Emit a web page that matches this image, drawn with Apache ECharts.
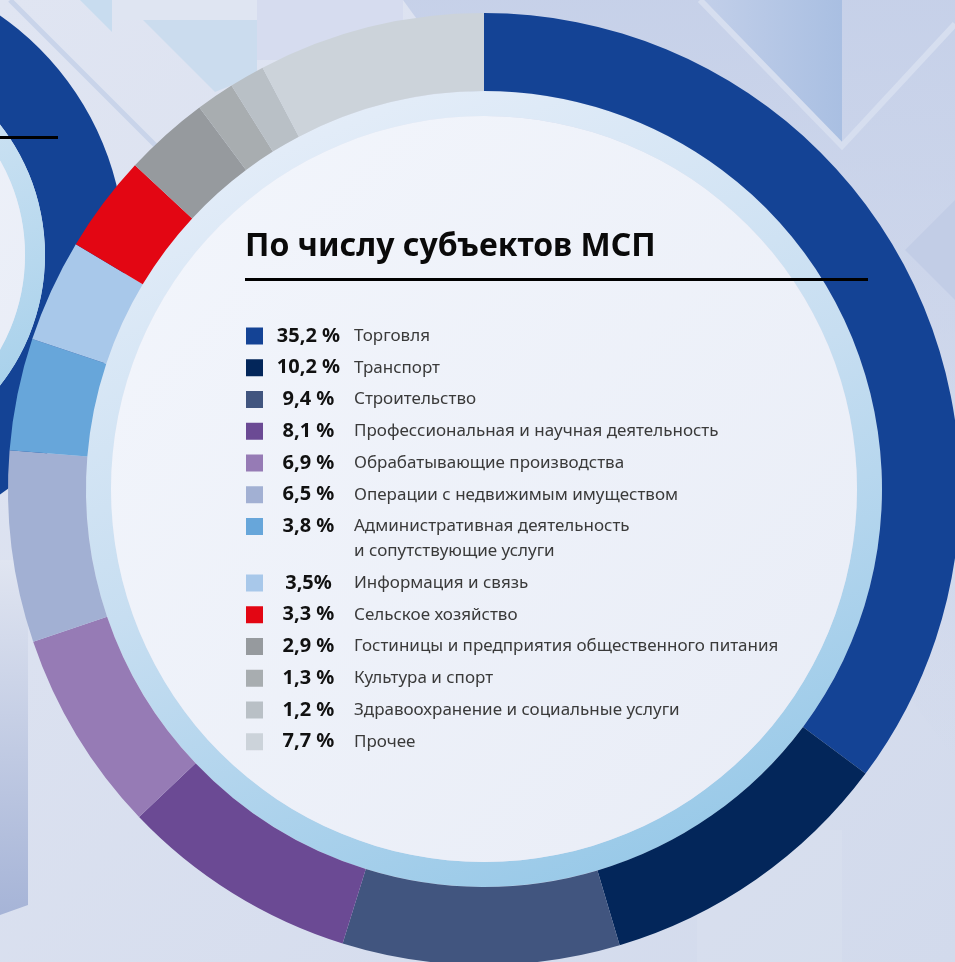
<!DOCTYPE html>
<html>
<head>
<meta charset="utf-8">
<script src="https://cdn.jsdelivr.net/npm/echarts@6/dist/echarts.min.js"></script>
<style>
  html, body { margin: 0; padding: 0; }
  #chart { width: 955px; height: 962px; }
</style>
</head>
<body>
<div id="chart"></div>
<script>
// доли отраслей по числу субъектов МСП
const categories = [
  'Торговля',
  'Транспорт',
  'Строительство',
  'Профессиональная и научная деятельность',
  'Обрабатывающие производства',
  'Операции с недвижимым имуществом',
  'Административная деятельность\nи сопутствующие услуги',
  'Информация и связь',
  'Сельское хозяйство',
  'Гостиницы и предприятия общественного питания',
  'Культура и спорт',
  'Здравоохранение и социальные услуги',
  'Прочее'
]
const shares = [35.2, 10.2, 9.4, 8.1, 6.9, 6.5, 3.8, 3.5, 3.3, 2.9, 1.3, 1.2, 7.7]
const shareLabels = ['35,2 %', '10,2 %', '9,4 %', '8,1 %', '6,9 %', '6,5 %', '3,8 %', '3,5%', '3,3 %', '2,9 %', '1,3 %', '1,2 %', '7,7 %']
const colors = [
  '#144395', '#03265a', '#41557f', '#6b4a94', '#967bb5', '#a2b0d3', '#67a6da',
  '#a8c8ea', '#e30613', '#969a9e', '#a8adb0', '#b9c0c6', '#ccd3da'
]

const FONT = '"Noto Sans", sans-serif'
const chart = echarts.init(document.getElementById('chart'))

const pieData = categories.map((name, i) => ({
  name: name,
  value: shares[i],
  itemStyle: { color: colors[i] }
}))

const labelOf = {}
categories.forEach((c, i) => { labelOf[c] = shareLabels[i] })

// общий вид легенды
const legendBase = {
  orient: 'vertical',
  left: 246,
  padding: 0,
  icon: 'rect',
  itemWidth: 17,
  itemHeight: 17,
  itemGap: 11.75,
  selectedMode: false,
  formatter: function (name) {
    return '{v|' + labelOf[name] + '}{n|' + name.split('\n')[0] + '}'
  },
  textStyle: {
    rich: {
      v: { fontFamily: FONT, fontWeight: 'bold', fontSize: 20, color: '#111', width: 81, align: 'right', lineHeight: 20 },
      n: { fontFamily: FONT, fontSize: 17, color: '#3a3a3a', padding: [0, 0, 0, 5], lineHeight: 20 }
    }
  }
}

const bandGradient = new echarts.graphic.LinearGradient(0.25, 0, 0.65, 1, [
  { offset: 0, color: '#e6eef9' },
  { offset: 0.5, color: '#c7def1' },
  { offset: 1, color: '#98c9e8' }
])
const leftBandGradient = new echarts.graphic.LinearGradient(0.5, 0, 0.9, 1, [
  { offset: 0, color: '#dce9f6' },
  { offset: 1, color: '#9fcde9' }
])
const innerGradient = new echarts.graphic.LinearGradient(0, 0, 1, 1, [
  { offset: 0, color: '#f3f6fc' },
  { offset: 1, color: '#e8ecf6' }
])

const option = {
  animation: false,
  backgroundColor: new echarts.graphic.LinearGradient(0, 0, 1, 1, [
    { offset: 0, color: '#e0e5f2' },
    { offset: 1, color: '#d2daec' }
  ]),
  title: {
    text: 'По числу субъектов МСП',
    left: 240,
    top: 226,
    textStyle: { fontFamily: FONT, fontWeight: 'bold', fontSize: 32, color: '#0a0a0a' }
  },
  legend: [
    Object.assign({}, legendBase, { top: 326, data: categories.slice(0, 7) }),
    Object.assign({}, legendBase, { top: 573, data: categories.slice(7) })
  ],
  graphic: [
    // фоновые фигуры
    { type: 'polygon', z: 0, silent: true, shape: { points: [[403, 0], [955, 0], [955, 760]] },
      style: { fill: new echarts.graphic.LinearGradient(0, 0, 0, 1, [{ offset: 0, color: 'rgba(196,207,232,0.9)' }, { offset: 1, color: 'rgba(196,207,232,0)' }]) } },
    { type: 'polygon', z: 0, silent: true, shape: { points: [[703, 0], [842, 0], [842, 143]] },
      style: { fill: new echarts.graphic.LinearGradient(0, 0, 1, 0, [{ offset: 0, color: '#c2cfe9' }, { offset: 1, color: '#a9bfe2' }]) } },
    { type: 'polyline', z: 0, silent: true, shape: { points: [[700, 0], [842, 146], [955, 24]] }, style: { stroke: '#d6deef', lineWidth: 6 } },
    { type: 'polygon', z: 0, silent: true, shape: { points: [[955, 200], [905, 250], [955, 300]] }, style: { fill: '#bfcbe5', opacity: 0.8 } },
    { type: 'polygon', z: 0, silent: true, shape: { points: [[257, 0], [403, 0], [403, 60], [257, 60]] }, style: { fill: '#d6dcef' } },
    { type: 'polygon', z: 0, silent: true, shape: { points: [[112, 0], [257, 0], [257, 20], [112, 20]] }, style: { fill: '#dfe5f2' } },
    { type: 'polygon', z: 0, silent: true, shape: { points: [[143, 20], [257, 20], [257, 75], [215, 92]] }, style: { fill: '#cbdcee' } },
    { type: 'polygon', z: 0, silent: true, shape: { points: [[80, 0], [112, 0], [112, 32]] }, style: { fill: '#c8dcef' } },
    { type: 'line', z: 0, silent: true, shape: { x1: 10, y1: 0, x2: 160, y2: 150 }, style: { stroke: '#c9d4ea', lineWidth: 5 } },
    { type: 'polygon', z: 0, silent: true, shape: { points: [[0, 560], [28, 560], [28, 905], [0, 915]] },
      style: { fill: new echarts.graphic.LinearGradient(0, 0, 0, 1, [{ offset: 0, color: '#e0e5f1' }, { offset: 1, color: '#a6b4d7' }]) } },
    { type: 'polygon', z: 0, silent: true, shape: { points: [[697, 830], [842, 830], [842, 962], [697, 962]] }, style: { fill: '#d9e0ef', opacity: 0.6 } },
    // линия заголовка левого графика
    { type: 'line', z: 100, silent: true, shape: { x1: 0, y1: 137.5, x2: 58, y2: 137.5 }, style: { stroke: '#000', lineWidth: 3 } },
    // подчёркивание заголовка
    { type: 'line', z: 100, silent: true, shape: { x1: 245, y1: 279.5, x2: 868, y2: 279.5 }, style: { stroke: '#000', lineWidth: 3 } },
    // вторая строка подписи
    { type: 'text', z: 100, silent: true, left: 354, top: 543,
      style: { text: categories[6].split('\n')[1], fontFamily: FONT, fontSize: 17, fill: '#3a3a3a' } }
  ],
  series: [
    // соседний график слева (обрезан)
    { type: 'pie', silent: true, center: [-167, 255], radius: [212, 292], label: { show: false },
      data: [{ value: 1, itemStyle: { color: '#144395' } }] },
    { type: 'pie', silent: true, center: [-167, 255], radius: [192, 212], label: { show: false },
      data: [{ value: 1, itemStyle: { color: leftBandGradient } }] },
    { type: 'pie', silent: true, center: [-167, 255], radius: [0, 192], label: { show: false },
      data: [{ value: 1, itemStyle: { color: innerGradient } }] },
    // основной график
    { type: 'pie', silent: true, center: [484, 489], radius: [373, 398], label: { show: false },
      data: [{ value: 1, itemStyle: { color: bandGradient } }] },
    { type: 'pie', silent: true, center: [484, 489], radius: [0, 373], label: { show: false },
      data: [{ value: 1, itemStyle: { color: innerGradient } }] },
    {
      name: 'МСП',
      type: 'pie',
      silent: true,
      center: [484, 489],
      radius: [398, 476],
      startAngle: 90,
      clockwise: true,
      label: { show: false },
      labelLine: { show: false },
      itemStyle: { borderWidth: 0 },
      data: pieData
    }
  ]
}

chart.setOption(option)
</script>
</body>
</html>
